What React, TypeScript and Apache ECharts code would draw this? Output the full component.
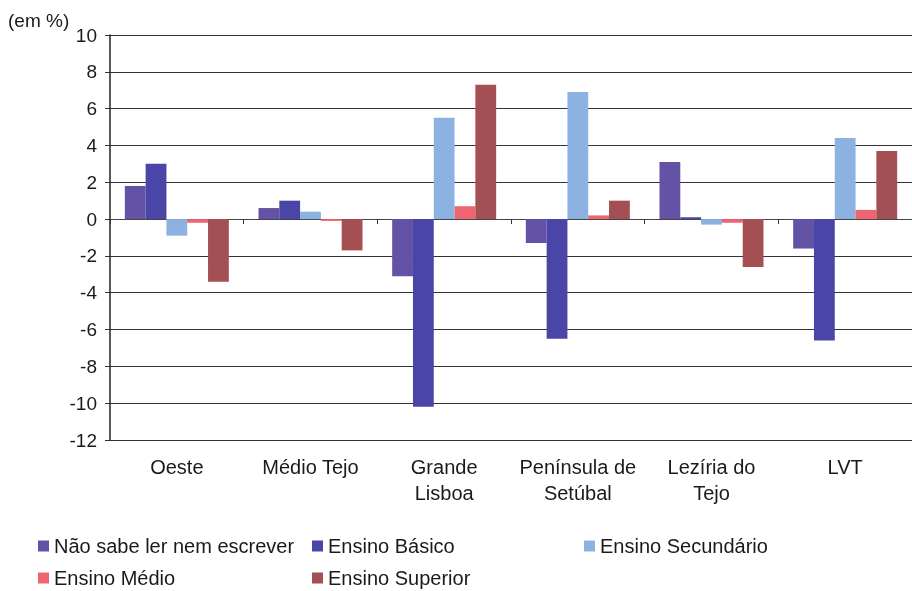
import React, { useEffect, useRef } from "react";
import * as echarts from "echarts";

const categories = ["Oeste", "Médio Tejo", "Grande\nLisboa", "Península de\nSetúbal", "Lezíria do\nTejo", "LVT"];
const seriesNames = ["Não sabe ler nem escrever", "Ensino Básico", "Ensino Secundário", "Ensino Médio", "Ensino Superior"];
const naoSabe = [1.8, 0.6, -3.1, -1.3, 3.1, -1.6];
const basico = [3.0, 1.0, -10.2, -6.5, 0.1, -6.6];
const secundario = [-0.9, 0.4, 5.5, 6.9, -0.3, 4.4];
const medio = [-0.2, -0.1, 0.7, 0.2, -0.2, 0.5];
const superior = [-3.4, -1.7, 7.3, 1.0, -2.6, 3.7];
const yTicks = { min: -12, max: 10, interval: 2 };
const unitLabel = "(em %)";

const colors = ["#6452a6", "#4a46a8", "#8cb2e2", "#ee6470", "#a44f53"];
const FONT = "'Liberation Sans', Arial, sans-serif";

export default function App() {
  const ref = useRef<HTMLDivElement>(null);
  useEffect(() => {
    if (!ref.current) return;
    const chart = echarts.init(ref.current, null, { renderer: "svg" });
    const values = [naoSabe, basico, secundario, medio, superior];
    const legendPos = [
      { left: 38, top: 536 },
      { left: 312, top: 536 },
      { left: 584, top: 536 },
      { left: 38, top: 568 },
      { left: 312, top: 568 },
    ];
    chart.setOption({
      animation: false,
      color: colors,
      textStyle: { fontFamily: FONT },
      grid: { left: 110, top: 35, width: 818, height: 405, containLabel: false },
      legend: seriesNames.map((n, i) => ({
        data: [n],
        left: legendPos[i].left,
        top: legendPos[i].top,
        padding: 0,
        icon: "rect",
        itemWidth: 11,
        itemHeight: 11,
        itemGap: 8,
        textStyle: { fontSize: 20, color: "#1a1a1a", fontFamily: FONT },
      })),
      xAxis: [
        {
          type: "category",
          data: categories,
          position: "bottom",
          axisLine: { show: false, onZero: false },
          axisTick: { show: false },
          axisLabel: {
            fontSize: 20,
            color: "#1a1a1a",
            lineHeight: 26,
            margin: 14,
            interval: 0,
            fontFamily: FONT,
          },
        },
        {
          type: "category",
          data: categories,
          position: "bottom",
          axisLine: { show: true, onZero: true, lineStyle: { color: "#444", width: 1 } },
          axisTick: { show: true, length: 5, lineStyle: { color: "#333" } },
          axisLabel: { show: false },
        },
      ],
      yAxis: {
        type: "value",
        min: yTicks.min,
        max: yTicks.max,
        interval: yTicks.interval,
        axisLine: { show: true, lineStyle: { color: "#222", width: 1.5 } },
        axisTick: { show: true, length: 5, lineStyle: { color: "#333" } },
        axisLabel: { fontSize: 19, color: "#1a1a1a", margin: 13, fontFamily: FONT },
        splitLine: { show: true, lineStyle: { color: "#333", width: 1 } },
      },
      graphic: [
        {
          type: "text",
          left: 8,
          top: 11,
          style: { text: unitLabel, fontSize: 19, fill: "#1a1a1a", fontFamily: FONT },
        },
      ],
      series: seriesNames.map((n, i) => ({
        name: n,
        type: "bar",
        data: values[i],
        barWidth: 20.8,
        barGap: "0%",
        itemStyle: { color: colors[i] },
      })),
    });
    return () => chart.dispose();
  }, []);
  return <div ref={ref} style={{ position: "fixed", left: 0, top: 0, width: 912, height: 591 }} />;
}
